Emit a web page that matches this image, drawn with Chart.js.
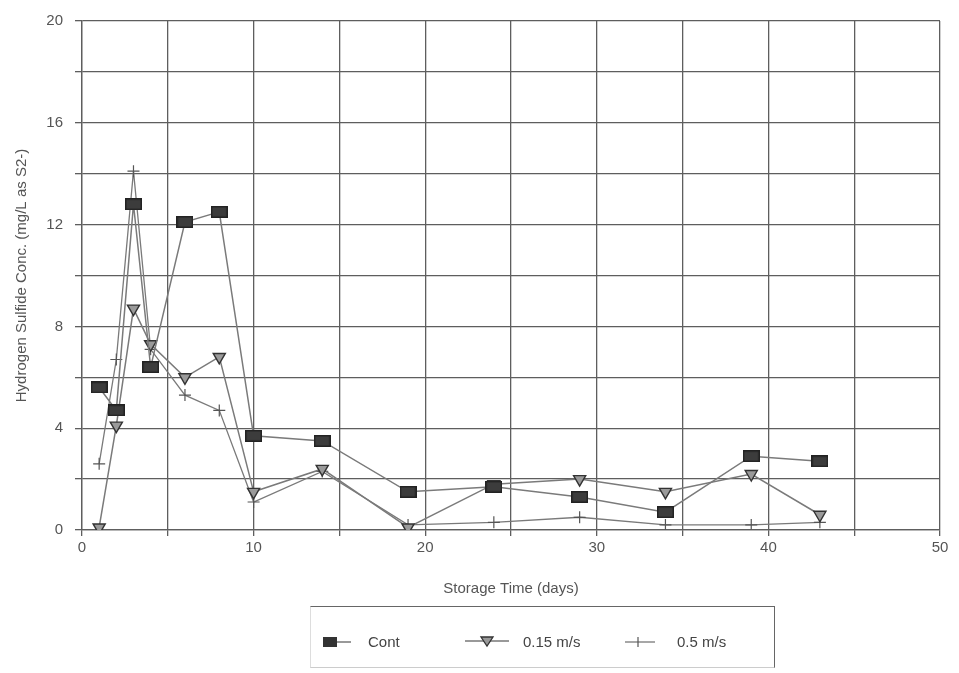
<!DOCTYPE html>
<html>
<head>
<meta charset="utf-8">
<script src="https://cdn.jsdelivr.net/npm/chart.js@4.4.1/dist/chart.umd.min.js"></script>
<style>
  html, body { margin: 0; padding: 0; background: #fff; }
  #wrap { position: relative; width: 959px; height: 673px; }
  #chart { position: absolute; left: 0; top: 0; }
  #legend {
    position: absolute; left: 310px; top: 606px; width: 463px; height: 60px;
    border-top: 1.5px solid #666; border-right: 1.5px solid #666;
    border-left: 1px solid #ddd; border-bottom: 1px solid #ccc;
    font-family: "Liberation Sans", Arial, sans-serif; font-size: 15px; color: #444;
  }
  .item { position: absolute; top: 26px; line-height: 18px; white-space: nowrap; }
  .sym { position: absolute; top: 28px; }
</style>
</head>
<body>
<div id="wrap">
  <canvas id="chart" width="959" height="673"></canvas>
  <div id="legend">
    <svg class="sym" style="left:10px" width="36" height="14">
      <rect x="2" y="2" width="14" height="10" fill="#333"/>
      <line x1="16" y1="7" x2="30" y2="7" stroke="#777" stroke-width="1.5"/>
    </svg>
    <span class="item" style="left:57px">Cont</span>
    <svg class="sym" style="left:154px" width="46" height="14">
      <line x1="0" y1="6" x2="44" y2="6" stroke="#777" stroke-width="1.5"/>
      <polygon points="16,2 28,2 22,11" fill="#999" stroke="#333" stroke-width="1.3"/>
    </svg>
    <span class="item" style="left:212px">0.15 m/s</span>
    <svg class="sym" style="left:314px" width="32" height="14">
      <line x1="0" y1="7" x2="30" y2="7" stroke="#777" stroke-width="1.3"/>
      <line x1="13" y1="2" x2="13" y2="12" stroke="#555" stroke-width="1.2"/>
    </svg>
    <span class="item" style="left:366px">0.5 m/s</span>
  </div>
</div>
<script>
// Sampling days and hydrogen sulfide concentrations (mg/L as S2-)
const days = [1, 2, 3, 4, 6, 8, 10, 14, 19, 24, 29, 34, 39, 43];
const cont = [5.6, 4.7, 12.8, 6.4, 12.1, 12.5, 3.7, 3.5, 1.5, 1.7, 1.3, 0.7, 2.9, 2.7];
const v015 = [0.1, 4.1, 8.7, 7.3, 6.0, 6.8, 1.5, 2.4, 0.1, 1.8, 2.0, 1.5, 2.2, 0.6];
const v05  = [2.6, 6.7, 14.1, 7.1, 5.3, 4.7, 1.1, 2.3, 0.2, 0.3, 0.5, 0.2, 0.2, 0.3];
const seriesNames = ['Cont', '0.15 m/s', '0.5 m/s'];
const xLabels = [0, 10, 20, 30, 40, 50];
const yLabels = [0, 4, 8, 12, 16, 20];

const pts = ys => days.map((d, i) => ({ x: d, y: ys[i] }));

// Flat rectangular marker for the control series
function rectMarker(w, h) {
  const c = document.createElement('canvas');
  c.width = w; c.height = h;
  const g = c.getContext('2d');
  g.fillStyle = '#222';
  g.fillRect(0, 0, w, h);
  g.fillStyle = '#3c3c3c';
  g.fillRect(1.5, 1.5, w - 3, h - 3);
  return c;
}

const FONT = { family: '"Liberation Sans", Arial, sans-serif', size: 15 };

new Chart(document.getElementById('chart'), {
  type: 'scatter',
  data: {
    datasets: [
      {
        label: seriesNames[0], data: pts(cont), showLine: true,
        borderColor: '#7a7a7a', borderWidth: 1.5,
        pointStyle: rectMarker(17, 12), pointRadius: 8
      },
      {
        label: seriesNames[1], data: pts(v015), showLine: true,
        borderColor: '#7a7a7a', borderWidth: 1.5,
        pointStyle: 'triangle', rotation: 180, pointRadius: 7,
        pointBackgroundColor: '#9a9a9a', pointBorderColor: '#333', pointBorderWidth: 1.4
      },
      {
        label: seriesNames[2], data: pts(v05), showLine: true,
        borderColor: '#7a7a7a', borderWidth: 1.3,
        pointStyle: 'cross', pointRadius: 6,
        pointBorderColor: '#555', pointBorderWidth: 1.2
      }
    ]
  },
  options: {
    responsive: false,
    animation: false,
    layout: { padding: { left: 5, right: 19, top: 18, bottom: 73 } },
    plugins: { legend: { display: false }, tooltip: { enabled: false } },
    scales: {
      x: {
        type: 'linear', min: 0, max: 50,
        afterFit: s => { s.height = 70; },
        ticks: {
          stepSize: 5, color: '#555', font: FONT, padding: 3, maxRotation: 0,
          callback: v => xLabels.includes(v) ? String(v) : ''
        },
        grid: { color: '#5e5e5e', lineWidth: 1.3, tickLength: 6 },
        border: { color: '#5e5e5e', width: 1.3 },
        title: { display: true, text: 'Storage Time (days)', color: '#555', font: FONT, padding: { top: 0, bottom: 2 } }
      },
      y: {
        type: 'linear', min: 0, max: 20,
        afterFit: s => { s.width = 77; },
        ticks: {
          stepSize: 2, color: '#555', font: FONT, padding: 12,
          callback: v => yLabels.includes(v) ? String(v) : ''
        },
        grid: { color: '#5e5e5e', lineWidth: 1.3, tickLength: 7 },
        border: { color: '#5e5e5e', width: 1.3 },
        title: { display: true, text: 'Hydrogen Sulfide Conc. (mg/L as S2-)', color: '#555', font: FONT, padding: { top: 8, bottom: 0 } }
      }
    }
  }
});
</script>
</body>
</html>
